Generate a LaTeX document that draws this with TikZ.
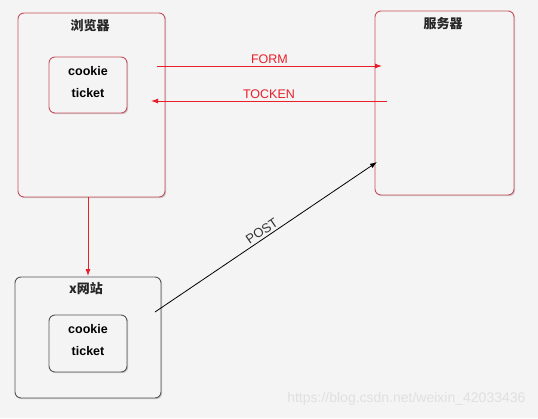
\documentclass[tikz,border=0pt]{standalone}
\usepackage{fontspec}
\setmainfont{Liberation Sans}
\newfontfamily\cjk{Noto Sans CJK SC}
\usetikzlibrary{shadows,arrows.meta}
\definecolor{bg}{HTML}{F4F4F4}
\definecolor{boxred}{HTML}{C8505E}
\definecolor{arrred}{HTML}{E8202A}
\definecolor{boxgray}{HTML}{555555}
\tikzset{
  bigbox/.style={draw=boxred, line width=0.9pt, fill=bg, rounded corners=6pt,
    drop shadow={shadow xshift=1.2pt, shadow yshift=-1.2pt, opacity=0.35, fill=gray}},
  graybox/.style={bigbox, draw=boxgray},
  innerbox/.style={draw=boxred, line width=0.9pt, fill=bg, rounded corners=6pt,
    drop shadow={shadow xshift=1.2pt, shadow yshift=-1.2pt, opacity=0.35, fill=gray}},
  innergray/.style={innerbox, draw=boxgray},
  ttl/.style={font=\cjk\fontsize{13}{15}\selectfont\bfseries, text=black!85},
  ck/.style={font=\fontsize{12.5}{14}\selectfont\bfseries, text=black},
  redarr/.style={draw=arrred, line width=0.9pt, -{Latex[length=7pt,width=5pt]}},
  blkarr/.style={draw=black, line width=0.8pt, -{Latex[length=7pt,width=5pt]}},
  redlbl/.style={font=\fontsize{12.5}{14}\selectfont, text=arrred},
  blklbl/.style={font=\fontsize{13}{15}\selectfont, text=black!80},
}
\begin{document}
\begin{tikzpicture}[x=1pt,y=-1pt]
\fill[bg] (0,0) rectangle (538,418);
\useasboundingbox (0,0) rectangle (538,418);
% browser
\path[bigbox] (18,13) rectangle (165,197);
\node[ttl] (tb) at (90,26) {浏览器};
\path[innerbox] (49,57) rectangle (127,113);
\node[ck] (c1) at (88,71) {cookie};
\node[ck] (t1) at (88,93) {ticket};
\coordinate (bFormS) at (157,66);
\coordinate (bTokE) at (151,101);
\coordinate (bBot) at (88,197);
% server
\path[bigbox] (375,11) rectangle (514,195);
\node[ttl] (ts) at (443,24) {服务器};
\coordinate (sFormE) at (382,66);
\coordinate (sTokS) at (387,101);
\coordinate (sPost) at (377,162);
% x site
\path[graybox] (15,277) rectangle (161,398);
\node[ttl] (tx) at (86,289) {x网站};
\path[innergray] (49,315) rectangle (127,372);
\node[ck] (c2) at (88,329) {cookie};
\node[ck] (t2) at (88,351) {ticket};
\coordinate (xTop) at (88,276);
\coordinate (xPost) at (155,312);
% arrows
\draw[redarr] (bFormS) -- node[redlbl, above=-1pt] (lf) {FORM} (sFormE);
\draw[redarr] (sTokS) -- node[redlbl, above=-1pt] (lt) {TOCKEN} (bTokE);
\draw[redarr] (bBot) -- (xTop);
\draw[blkarr] (xPost) -- node[blklbl, above=-1pt, sloped] (lp) {POST} (sPost);
% watermark
\node[font=\fontsize{14}{16}\selectfont, text=black!12, anchor=east] (wm) at (529,399) {https://blog.csdn.net/weixin\_42033436};
\end{tikzpicture}
\end{document}
